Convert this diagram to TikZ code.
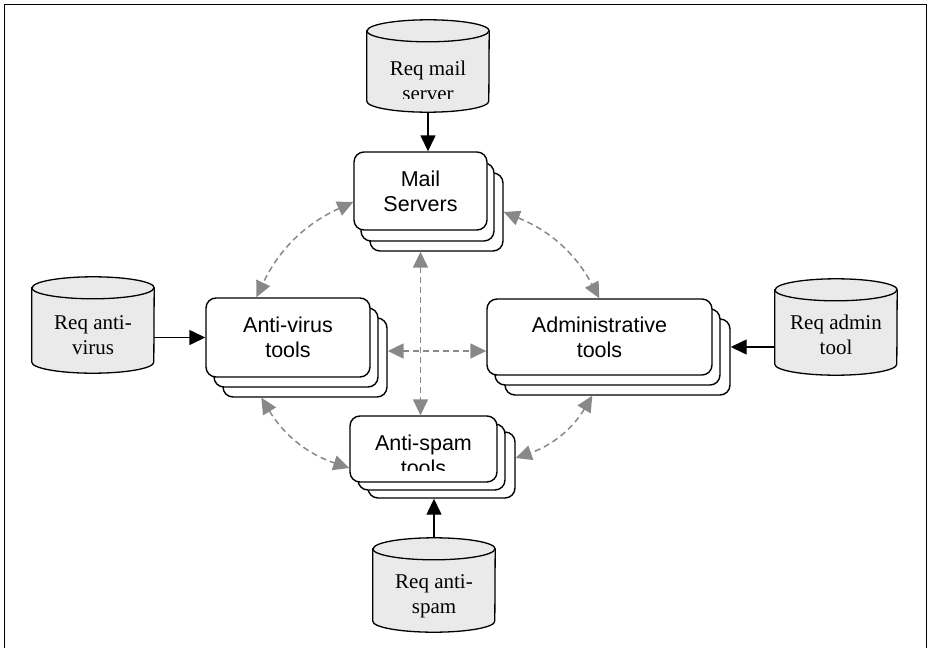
\documentclass[tikz,border=0pt]{standalone}
\usepackage{fontspec}
\setmainfont{Liberation Serif}
\setsansfont{Liberation Sans}
\usetikzlibrary{arrows.meta,calc}
\definecolor{cylfill}{HTML}{EAEAEA}
\definecolor{linkgray}{HTML}{888888}

% database drum drawn over an invisible rectangle node
\newcommand{\drawdrum}[1]{%
  \draw[cylline] ([yshift=-11pt]#1.north west) -- ([yshift=11pt]#1.south west)
    arc[start angle=180,end angle=360,x radius=61pt,y radius=11pt]
    -- ([yshift=-11pt]#1.north east)
    arc[start angle=0,end angle=180,x radius=61pt,y radius=11pt] -- cycle;
  \draw[line width=1.3pt] ([yshift=-11pt]#1.north west)
    arc[start angle=180,end angle=360,x radius=61pt,y radius=11pt];}

\begin{document}
\begin{tikzpicture}[x=1pt,y=-1pt,
  box/.style={draw, line width=1.4pt, fill=white, rounded corners=10pt, inner sep=0pt},
  boxtext/.style={font=\sffamily\fontsize{21.5}{25}\selectfont, align=center},
  cylbox/.style={inner sep=0pt, minimum width=122pt},
  cyltext/.style={font=\rmfamily\fontsize{21}{25}\selectfont, align=center},
  cylline/.style={line width=1.3pt, fill=cylfill},
  feed/.style={line width=1.4pt, -{Triangle[length=16pt,width=15pt]}},
  link/.style={linkgray, line width=1.5pt, dash pattern=on 6pt off 4pt,
    {Triangle[length=16pt,width=15pt]}-{Triangle[length=16pt,width=15pt]}}
]
\useasboundingbox (0,0) rectangle (930,648);
\draw[line width=1pt] (4,648) -- (4,4) -- (926,4) -- (926,648);

% stacked process boxes (back copies first)
\node[box, minimum width=133pt, minimum height=78pt] (mail3) at (436.5,212) {};
\node[box, minimum width=133pt, minimum height=78pt] (mail2) at (427.5,202) {};
\node[box, boxtext, minimum width=133pt, minimum height=78pt] (mail) at (420.5,191) {Mail\\Servers};

\node[box, minimum width=164pt, minimum height=79pt] (av3) at (305,357.5) {};
\node[box, minimum width=164pt, minimum height=79pt] (av2) at (296,347.5) {};
\node[box, boxtext, minimum width=164pt, minimum height=79pt] (av) at (288,337.5) {Anti-virus\\tools};

\node[box, minimum width=225pt, minimum height=76pt] (adm3) at (617.5,357) {};
\node[box, minimum width=225pt, minimum height=76pt] (adm2) at (607.5,347) {};
\node[box, boxtext, minimum width=225pt, minimum height=76pt] (adm) at (599.5,337) {Administrative\\tools};

\node[box, minimum width=147pt, minimum height=66pt] (spam3) at (441.5,465) {};
\node[box, minimum width=147pt, minimum height=66pt] (spam2) at (431.5,457) {};
\node[box, minimum width=147pt, minimum height=66pt] (spam) at (423.5,449) {};
\begin{scope}
  \clip (spam.north west) rectangle ([yshift=12pt]spam.south east);
  \node[boxtext] (spamlabel) at ([yshift=-6pt]spam.center) {Anti-spam\\tools};
\end{scope}

% requirement stores
\node[cylbox, minimum height=92pt] (mailcyl) at (428,66) {};
\drawdrum{mailcyl}
\begin{scope}
  \clip ([yshift=-20pt]mailcyl.north west) rectangle ([yshift=14pt]mailcyl.south east);
  \node[cyltext] (mailcyltext) at ([yshift=-14.5pt]mailcyl.center) {Req mail\\server};
\end{scope}

\node[cylbox, minimum height=96pt] (avcyl) at (93,325) {};
\drawdrum{avcyl}
\node[cyltext] (avcyltext) at ([yshift=-10pt]avcyl.center) {Req anti-\\virus};

\node[cylbox, minimum height=96pt] (admcyl) at (836,327) {};
\drawdrum{admcyl}
\node[cyltext] (admcyltext) at ([yshift=-8pt]admcyl.center) {Req admin\\tool};

\node[cylbox, minimum height=94pt] (spamcyl) at (434,585) {};
\drawdrum{spamcyl}
\node[cyltext] (spamcyltext) at ([yshift=-11pt]spamcyl.center) {Req anti-\\spam};

% requirement feeds
\draw[feed] (mailcyl.south) -- (mailcyl.south |- mail.north);
\draw[feed] (avcyl.east |- av.west) -- (av.west);
\draw[feed] (admcyl.west |- adm2.east) -- (adm3.east |- adm2.east);
\draw[feed] (spamcyl.north) -- (spamcyl.north |- spam3.south);

% interactions between the tool groups
\draw[link] ([yshift=-11pt]mail.west) to[bend right=20] ([xshift=51pt]av.north west);
\draw[link] (mail3.east) to[bend left=20] ([xshift=113pt]adm.north west);
\draw[link] ([xshift=39pt]av3.south west) to[bend right=20] ([yshift=-19pt]spam.west);
\draw[link] ([xshift=88pt]adm3.south west) to[bend left=20] ([yshift=7pt]spam3.east);
\draw[link] (mail3.south -| mail.south) -- (spam.north -| mail.south);
\draw[link] ([yshift=6.5pt]av3.east) -- ([yshift=6.5pt]av3.east -| adm.west);
\end{tikzpicture}
\end{document}
